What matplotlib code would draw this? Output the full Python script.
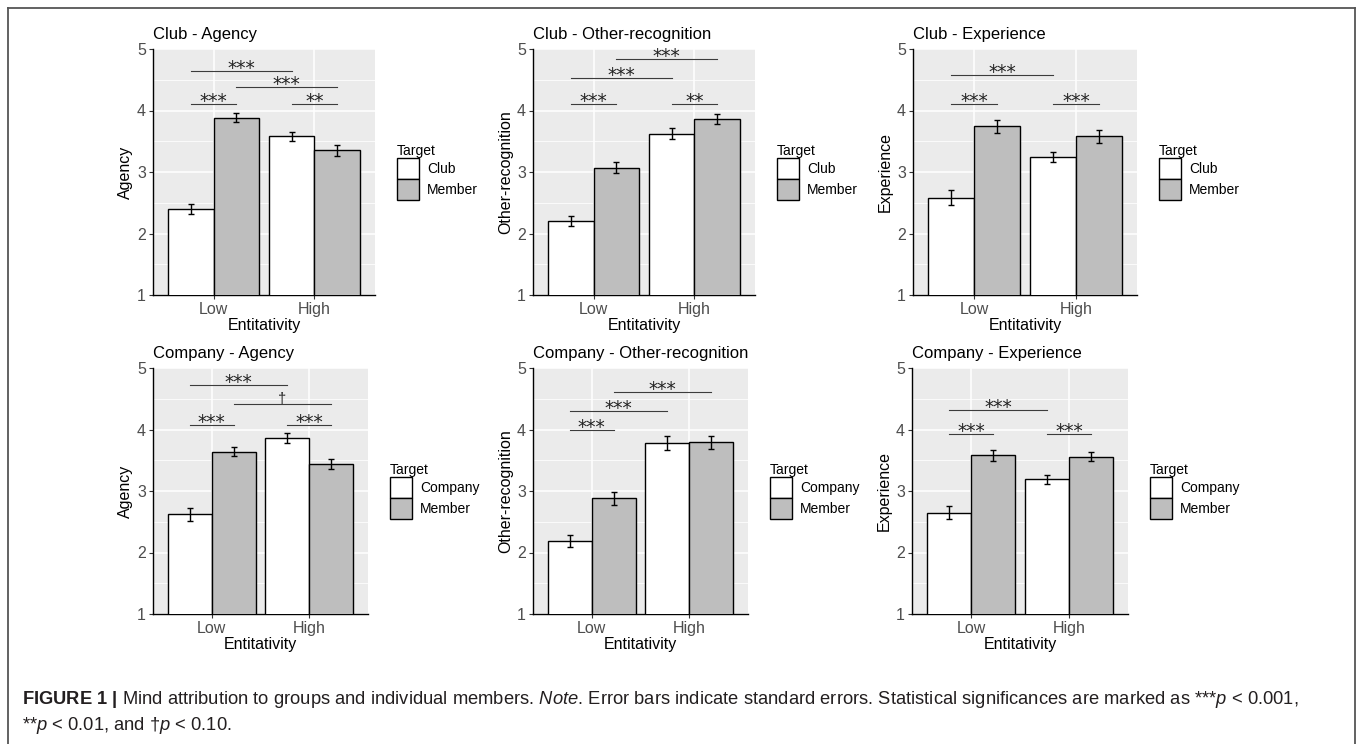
import numpy as np
import matplotlib
matplotlib.use("Agg")
import matplotlib.pyplot as plt
from matplotlib.lines import Line2D
from matplotlib.patches import Patch

plt.rcParams['font.family'] = ['Liberation Sans', 'DejaVu Sans']
plt.rcParams['mathtext.fontset'] = 'custom'
plt.rcParams['mathtext.rm'] = 'Liberation Sans'
plt.rcParams['mathtext.it'] = 'Liberation Sans:italic'
plt.rcParams['mathtext.bf'] = 'Liberation Sans:bold'

# ---------------- data ----------------
levels = ["Low", "High"]
titles = ["Club - Agency", "Club - Other-recognition", "Club - Experience",
          "Company - Agency", "Company - Other-recognition", "Company - Experience"]
ylabels = ["Agency", "Other-recognition", "Experience",
           "Agency", "Other-recognition", "Experience"]
target_labels = [["Club", "Member"]] * 3 + [["Company", "Member"]] * 3

group_means = [[2.40, 3.58], [2.21, 3.62], [2.58, 3.24],
               [2.62, 3.86], [2.19, 3.78], [2.65, 3.19]]
group_se = [[0.08, 0.075], [0.08, 0.09], [0.12, 0.08],
            [0.11, 0.08], [0.10, 0.11], [0.10, 0.07]]
member_means = [[3.88, 3.35], [3.07, 3.86], [3.74, 3.58],
                [3.64, 3.44], [2.88, 3.79], [3.58, 3.56]]
member_se = [[0.075, 0.085], [0.09, 0.08], [0.10, 0.11],
             [0.075, 0.08], [0.11, 0.10], [0.09, 0.08]]

# significance brackets: (bar_a, bar_b, y, label); bars 0=Low group, 1=Low member, 2=High group, 3=High member
sig_brackets = [
    [(0, 2, 4.64, "***"), (1, 3, 4.38, "***"), (0, 1, 4.11, "***"), (2, 3, 4.11, "**")],
    [(1, 3, 4.84, "***"), (0, 2, 4.53, "***"), (0, 1, 4.11, "***"), (2, 3, 4.11, "**")],
    [(0, 2, 4.58, "***"), (0, 1, 4.11, "***"), (2, 3, 4.11, "***")],
    [(0, 2, 4.72, "***"), (1, 3, 4.41, "\u2020"), (0, 1, 4.07, "***"), (2, 3, 4.07, "***")],
    [(1, 3, 4.61, "***"), (0, 2, 4.30, "***"), (0, 1, 3.99, "***")],
    [(0, 2, 4.32, "***"), (0, 1, 3.93, "***"), (2, 3, 3.93, "***")],
]

caption_line1 = (r"$\bf{FIGURE\ 1\ |}$ Mind attribution to groups and individual members. "
                 r"$\it{Note}$. Error bars indicate standard errors. Statistical significances "
                 r"are marked as ***$\it{p}$ < 0.001,")
caption_line2 = r"**$\it{p}$ < 0.01, and †$\it{p}$ < 0.10."

# ---------------- layout ----------------
W, H = 1357, 744
fig = plt.figure(figsize=(W / 100, H / 100), dpi=100)
fig.patch.set_facecolor("white")

panel_boxes = [(153, 49, 375, 295), (533, 49, 755, 295), (913, 49, 1137, 295),
               (153, 368, 368, 614), (533, 368, 748, 614), (912, 368, 1128, 614)]

GROUP_FILL = "white"
MEMBER_FILL = "#BEBEBE"
BW = 0.45

def px_axes(l, t, r, b):
    return fig.add_axes([l / W, 1 - b / H, (r - l) / W, (b - t) / H])

for i in range(6):
    l, t, r, b = panel_boxes[i]
    ax = px_axes(l, t, r, b)
    ax.set_facecolor("#EBEBEB")
    x = np.arange(1, len(levels) + 1)
    xg = x - BW / 2
    xm = x + BW / 2
    ax.bar(xg, group_means[i], width=BW, color=GROUP_FILL, edgecolor="black", linewidth=1.0, zorder=3)
    ax.bar(xm, member_means[i], width=BW, color=MEMBER_FILL, edgecolor="black", linewidth=1.0, zorder=3)
    ax.errorbar(xg, group_means[i], yerr=group_se[i], fmt="none", ecolor="black",
                elinewidth=1.0, capsize=2.2, capthick=1.0, zorder=4)
    ax.errorbar(xm, member_means[i], yerr=member_se[i], fmt="none", ecolor="black",
                elinewidth=1.0, capsize=2.2, capthick=1.0, zorder=4)

    bar_x = [xg[0], xm[0], xg[1], xm[1]]
    for a, c, y, lab in sig_brackets[i]:
        ax.plot([bar_x[a], bar_x[c]], [y, y], color="#3c3c3c", lw=0.8, zorder=5)
        if "*" in lab:
            ax.annotate(lab, xy=((bar_x[a] + bar_x[c]) / 2, y), xytext=(0, -2.0),
                        textcoords="offset points", ha="center", va="baseline",
                        fontsize=13.5, family="DejaVu Sans", color="#222222", zorder=6)
        else:
            ax.annotate(lab, xy=((bar_x[a] + bar_x[c]) / 2, y), xytext=(0, 1.0),
                        textcoords="offset points", ha="center", va="baseline",
                        fontsize=10.5, color="#222222", zorder=6)

    ax.set_xlim(0.4, 2.6)
    ax.set_ylim(1, 5)
    ax.set_xticks(x)
    ax.set_xticklabels(levels)
    ax.set_yticks([1, 2, 3, 4, 5])
    ax.set_yticks([1.5, 2.5, 3.5, 4.5], minor=True)
    ax.grid(which="major", color="white", lw=1.1, zorder=0)
    ax.grid(which="minor", axis="y", color="white", lw=0.55, zorder=0)
    ax.set_axisbelow(True)
    for s in ("top", "right"):
        ax.spines[s].set_visible(False)
    for s in ("left", "bottom"):
        ax.spines[s].set_color("black")
        ax.spines[s].set_linewidth(1.0)
    ax.tick_params(which="major", length=3, width=0.8, color="#333333",
                   labelcolor="#4D4D4D", labelsize=11.5, pad=2)
    ax.tick_params(which="minor", length=0)
    ax.set_ylabel(ylabels[i], fontsize=11.5, labelpad=3, color="black")
    ax.set_xlabel("Entitativity", fontsize=11.5, labelpad=0.5, color="black")
    ax.set_title(titles[i], loc="left", fontsize=12, pad=7, color="black")

    handles = [Patch(facecolor=GROUP_FILL, edgecolor="black", linewidth=1.0),
               Patch(facecolor=MEMBER_FILL, edgecolor="black", linewidth=1.0)]
    gap = 22 / (r - l)
    ax.legend(handles, target_labels[i], title="Target", loc="center left",
              bbox_to_anchor=(1 + gap, 0.5), frameon=False, fontsize=10,
              title_fontsize=10, handlelength=1.6, handleheight=1.9,
              labelspacing=0.0, handletextpad=0.55, borderpad=0, borderaxespad=0,
              alignment="left")

# border lines
border_kw = dict(transform=fig.transFigure, color="#555555", lw=1.3)
fig.add_artist(Line2D([8 / W, 8 / W], [0, 1 - 8 / H], **border_kw))
fig.add_artist(Line2D([8 / W, 1355 / W], [1 - 8 / H, 1 - 8 / H], **border_kw))
fig.add_artist(Line2D([1355 / W, 1355 / W], [0, 1 - 8 / H], **border_kw))

# caption
fig.text(22 / W, 1 - 700 / H, caption_line1, fontsize=13.2, color="#231F20", va="center", ha="left")
fig.text(22 / W, 1 - 725 / H, caption_line2, fontsize=13.2, color="#231F20", va="center", ha="left")

fig.savefig("out.png", dpi=100)
